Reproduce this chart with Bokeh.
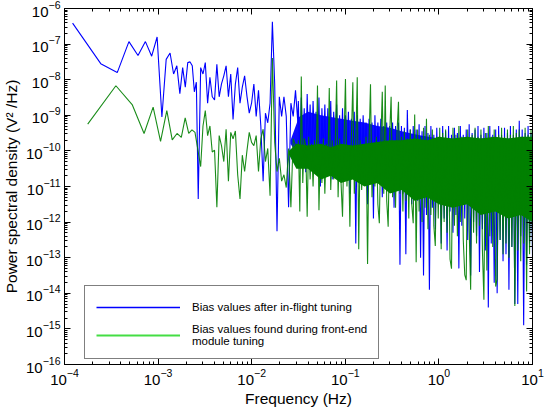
import numpy as np
from bokeh.plotting import figure
from bokeh.models import (FixedTicker, LogAxis, Legend, LegendItem, Range1d,
                          CustomJSTickFormatter)
from bokeh.embed import file_html
from bokeh.resources import INLINE

# ---------------- data (log10 of PSD, V^2/Hz) ----------------
# frequency resolution of the two spectra (Hz): bins are k * DF
DF_BLUE = 1.22e-4
DF_GREEN = 1.77e-4

blue_low_log = [-6.41, -7.55, -7.80, -6.93, -7.32, -6.93, -7.34, -6.80, -9.05, -7.43,
                -7.25, -7.84, -7.61, -8.39, -7.66, -8.21, -7.52, -7.50, -7.61, -8.34,
                -8.07, -11.35]
green_low_log = [-9.25, -8.17, -8.71, -9.51, -8.77, -9.73, -8.87, -9.69, -9.51, -9.62,
                 -9.07, -9.51, -9.41, -9.48]

# mid band, 2.85e-3 .. 3.11e-2 Hz (log-spaced samples)
MID_F0, MID_F1 = 2.85e-3, 3.11e-2
blue_mid_log = [-7.66, -7.84, -7.52, -8.66, -7.93, -8.48, -8.57, -7.57, -8.48, -8.12,
                -7.89, -7.61, -8.48, -7.84, -9.12, -8.12, -7.66, -8.66, -8.21, -7.89,
                -8.46, -8.94, -8.66, -8.12, -9.03, -8.30, -9.30, -10.85, -8.94, -9.21,
                -8.66, -6.37, -8.12, -12.26, -8.48, -9.03, -8.48, -9.03, -11.58, -8.66,
                -9.03, -8.30, -9.20]
green_mid_log = [-10.44, -9.30, -8.87, -9.57, -9.30, -10.03, -9.98, -11.58, -9.57, -9.85,
                 -10.30, -9.39, -10.85, -9.48, -9.66, -9.44, -10.67, -11.35, -10.12, -10.58,
                 -10.00, -9.48, -9.76, -9.85, -9.57, -10.58, -9.66, -9.39, -10.30, -9.93,
                 -11.26, -7.39, -9.76, -10.58, -10.21, -10.85, -10.67, -11.03, -9.93, -11.58,
                 -9.66, -9.85, -10.12]

# high band, 0.0315 .. 10 Hz (log-spaced samples of the dense spectrum)
HIGH_F0, HIGH_F1 = 0.0315, 10.0
blue_high_log = [
    -8.6, -10.2, -8.5, -9.9, -8.8, -10.6, -8.4, -10.0, -8.7, -10.4,
    -8.6, -9.8, -8.9, -10.3, -8.5, -11.0, -8.8, -10.1, -8.7, -10.5,
    -8.8, -10.2, -8.6, -10.8, -8.9, -10.0, -8.7, -10.6, -9.0, -10.3,
    -8.8, -10.7, -9.0, -10.2, -8.9, -11.2, -9.1, -10.4, -8.9, -12.6,
    -9.0, -10.5, -9.1, -10.9, -9.0, -10.3, -9.2, -11.5, -9.1, -10.6,
    -9.2, -11.9, -9.0, -10.8, -9.2, -10.4, -9.1, -11.3, -9.3, -10.7,
    -9.2, -11.0, -9.3, -10.5, -9.2, -11.6, -9.3, -10.9, -9.2, -13.2,
    -9.3, -11.2, -9.35, -12.9, -8.85, -10.8, -9.4, -11.5, -9.3, -11.0,
    -9.4, -11.4, -9.25, -13.0, -9.45, -13.5, -9.3, -11.8, -9.5, -13.9,
    -9.3, -11.6, -9.55, -12.2, -9.35, -11.3, -9.6, -12.6, -9.3, -11.9,
    -9.45, -12.8, -9.3, -11.7, -9.55, -12.3, -9.35, -11.8, -9.5, -13.3,
    -9.3, -12.1, -9.55, -11.9, -9.4, -12.5, -9.25, -13.5, -9.5, -12.0,
    -9.4, -12.4, -9.3, -13.4, -9.55, -12.2, -9.35, -12.8, -9.5, -14.4,
    -9.3, -12.6, -9.55, -13.7, -9.4, -14.0, -9.3, -12.5, -9.55, -13.1,
    -9.35, -12.9, -9.5, -13.9, -9.3, -12.7, -9.55, -14.3, -9.4, -14.3,
    -9.15, -12.4, -9.4, -14.9, -9.5, -13.2, -9.3, -12.6, -9.5, -13.0]
green_high_log = [
    -9.7, -11.7, -7.91, -10.9, -9.65, -9.85, -11.85, -9.6, -10.8, -9.8,
    -11.0, -9.7, -10.6, -8.16, -11.67, -9.85, -10.9, -9.65, -11.2, -9.8,
    -10.7, -8.23, -11.1, -9.7, -10.8, -9.9, -8.02, -11.3, -9.65, -10.9,
    -11.85, -9.75, -7.98, -11.0, -9.85, -12.13, -9.65, -8.07, -11.2, -9.8,
    -7.93, -12.76, -9.7, -11.1, -9.9, -10.9, -9.6, -13.18, -9.75, -8.13,
    -11.3, -9.85, -11.0, -9.6, -11.5, -12.03, -9.75, -8.34, -11.2, -8.16,
    -11.4, -12.13, -9.55, -8.48, -11.3, -9.75, -11.6, -9.5, -8.62, -11.2,
    -9.6, -11.7, -9.45, -11.4, -9.65, -11.9, -9.4, -11.5, -12.03, -8.98,
    -13.13, -9.4, -11.7, -9.6, -12.0, -9.35, -11.6, -9.10, -12.2, -9.55,
    -11.8, -9.4, -12.1, -12.67, -9.6, -11.9, -9.35, -12.76, -9.5, -12.0,
    -9.4, -12.3, -9.65, -13.04, -13.31, -9.35, -12.1, -9.55, -12.4, -9.3,
    -12.0, -9.6, -12.5, -13.48, -13.63, -9.4, -12.2, -13.90, -9.55, -12.3,
    -9.35, -12.6, -9.6, -12.1, -9.4, -12.8, -14.18, -9.5, -13.36, -9.3,
    -12.4, -9.6, -12.7, -9.4, -13.81, -13.6, -9.55, -12.5, -9.35, -12.9,
    -9.6, -12.6, -9.4, -13.0, -9.55, -12.7, -9.3, -14.36, -9.5, -12.8,
    -9.4, -13.1, -9.6, -12.6, -9.35, -13.95, -9.55, -12.9, -9.4, -12.7]

# envelopes of the densely filled parts
blue_core_f = [0.026, 0.032, 0.04, 0.055, 0.07, 0.09, 0.12, 0.16, 0.22, 0.3, 0.4, 0.6, 1.0, 10.0]
blue_core_top = [-9.7, -9.05, -8.9, -9.0, -9.05, -9.1, -9.15, -9.2, -9.3, -9.35, -9.45, -9.55,
                 -9.65, -9.65]
blue_core_bot = [-9.8, -10.2, -10.2, -10.2, -10.2, -10.2, -10.2, -10.2, -10.2, -10.2, -10.2,
                 -10.2, -10.2, -10.2]
green_core_f = [0.025, 0.03, 0.04, 0.055, 0.07, 0.09, 0.12, 0.16, 0.22, 0.3, 0.4, 0.55, 0.75,
                1.0, 1.4, 2.0, 2.8, 4.0, 5.5, 7.5, 10.0]
green_core_top = [-10.0, -9.8, -9.85, -9.8, -9.9, -9.8, -9.85, -9.8, -9.75, -9.7, -9.7, -9.65,
                  -9.7, -9.6, -9.65, -9.6, -9.65, -9.6, -9.65, -9.6, -9.6]
green_core_bot = [-10.1, -10.5, -10.5, -10.8, -10.7, -10.9, -10.8, -11.0, -10.9, -11.2, -11.1,
                  -11.4, -11.3, -11.5, -11.6, -11.5, -11.8, -11.7, -11.9, -11.8, -12.0]

x_ticks = [1e-4, 1e-3, 1e-2, 1e-1, 1.0, 10.0]
y_ticks = [10.0 ** e for e in range(-16, -5)]

BLUE = "#0000ff"
GREEN = "#008000"
GREEN_LEG = "#44dd44"


def series(df, low, mid, high):
    f_low = df * np.arange(1, len(low) + 1)
    f_mid = np.geomspace(MID_F0, MID_F1, len(mid))
    f_high = np.geomspace(HIGH_F0, HIGH_F1, len(high))
    f = np.concatenate([f_low, f_mid, f_high])
    v = 10.0 ** np.array(low + mid + high)
    return f, v


bf, bv = series(DF_BLUE, blue_low_log, blue_mid_log, blue_high_log)
gf, gv = series(DF_GREEN, green_low_log, green_mid_log, green_high_log)

p = figure(x_axis_type="log", y_axis_type="log",
           x_range=Range1d(1e-4, 10.0), y_range=Range1d(1e-16, 1e-6),
           frame_width=468, frame_height=356,
           min_border_left=57, min_border_right=12, min_border_top=8, min_border_bottom=38,
           output_backend="svg", toolbar_location=None)
p.xgrid.visible = False
p.ygrid.visible = False
p.outline_line_color = "black"
p.outline_line_width = 1
p.background_fill_color = "white"
p.border_fill_color = "white"

p.varea(x=blue_core_f, y1=10.0 ** np.array(blue_core_bot), y2=10.0 ** np.array(blue_core_top),
        fill_color=BLUE, fill_alpha=0.95)
p.line(bf, bv, line_color=BLUE, line_width=1.1)
p.varea(x=green_core_f, y1=10.0 ** np.array(green_core_bot), y2=10.0 ** np.array(green_core_top),
        fill_color=GREEN, fill_alpha=1.0)
p.line(gf, gv, line_color=GREEN, line_width=1.1, line_alpha=0.9)

x_minor = [m * 10.0 ** e for e in range(-4, 1) for m in range(2, 10)]
y_minor = [m * 10.0 ** e for e in range(-16, -6) for m in range(2, 10)]

FONT = "Liberation Sans"


def style_axis(ax):
    ax.major_tick_in = 6
    ax.major_tick_out = 0
    ax.minor_tick_in = 3
    ax.minor_tick_out = 0
    ax.axis_line_color = "black"
    ax.major_tick_line_color = "black"
    ax.minor_tick_line_color = "black"
    ax.major_label_text_font = FONT
    ax.major_label_text_font_size = "15px"
    ax.major_label_text_color = "black"
    ax.axis_label_text_font = FONT
    ax.axis_label_text_font_size = "15.5px"
    ax.axis_label_text_font_style = "normal"
    ax.axis_label_text_color = "black"


xa = p.xaxis[0]
ya = p.yaxis[0]
xa.ticker = FixedTicker(ticks=x_ticks, minor_ticks=x_minor)
ya.ticker = FixedTicker(ticks=y_ticks, minor_ticks=y_minor)
style_axis(xa)
style_axis(ya)
xa.axis_label = "Frequency (Hz)"
ya.axis_label = "Power spectral density (V² /Hz)"
xa.major_label_standoff = 4
ya.major_label_standoff = 4
xa.axis_label_standoff = 2
ya.axis_label_standoff = 3

for loc, tk in (("right", FixedTicker(ticks=y_ticks, minor_ticks=y_minor)),
                ("above", FixedTicker(ticks=x_ticks, minor_ticks=x_minor))):
    ax = LogAxis(ticker=tk, formatter=CustomJSTickFormatter(code="return ''"))
    style_axis(ax)
    ax.major_label_standoff = 0
    ax.major_label_text_font_size = "0px"
    p.add_layout(ax, loc)

# legend-only renderers (no visible data)
leg_b = p.line([np.nan, np.nan], [np.nan, np.nan], line_color=BLUE, line_width=1.6)
leg_g = p.line([np.nan, np.nan], [np.nan, np.nan], line_color=GREEN_LEG, line_width=2)
legend = Legend(items=[
    LegendItem(label="Bias values after in-flight tuning", renderers=[leg_b]),
    LegendItem(label="Bias values found during front-end\nmodule tuning", renderers=[leg_g]),
], location=(20, 5))
legend.border_line_color = "black"
legend.border_line_width = 1.2
legend.background_fill_color = "white"
legend.background_fill_alpha = 1.0
legend.label_text_font = FONT
legend.label_text_font_size = "11.5px"
legend.label_text_color = "black"
legend.glyph_width = 84
legend.glyph_height = 20
legend.label_height = 20
legend.label_standoff = 12
legend.padding = 11
legend.spacing = 6
legend.margin = 0
p.add_layout(legend)

open("out.html", "w").write(file_html(p, INLINE))
